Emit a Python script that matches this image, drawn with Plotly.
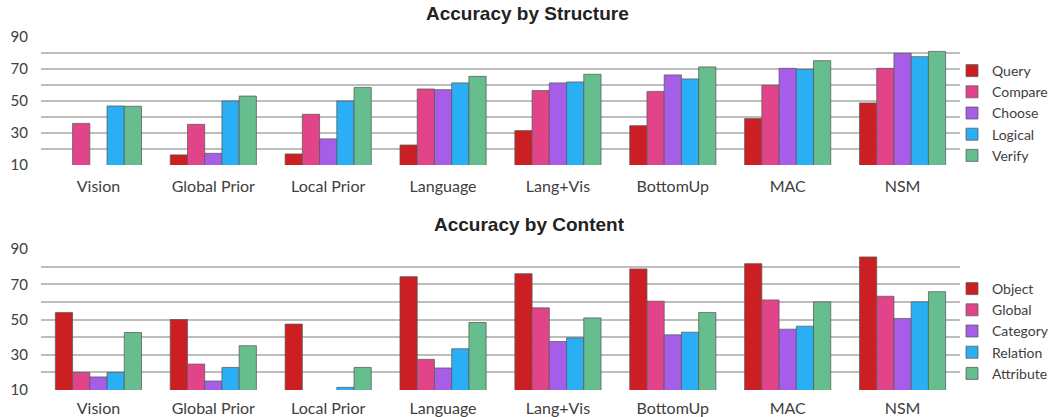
import plotly.graph_objects as go
from plotly.subplots import make_subplots

models = ["Vision", "Global Prior", "Local Prior", "Language", "Lang+Vis", "BottomUp", "MAC", "NSM"]

# Accuracy by Structure
query = [None, 16.3, 16.9, 22.5, 31.5, 34.6, 39.0, 48.8]
compare = [36.0, 35.4, 41.7, 57.5, 56.5, 56.0, 59.8, 70.4]
choose = [None, 17.3, 26.3, 57.1, 61.3, 66.3, 70.4, 79.8]
logical = [46.9, 50.0, 50.0, 61.3, 61.9, 63.8, 69.8, 77.7]
verify = [46.7, 53.1, 58.5, 65.4, 66.7, 71.3, 75.2, 81.0]

# Accuracy by Content
obj = [54.0, 50.0, 47.4, 74.3, 76.0, 78.7, 81.7, 85.5]
glob = [20.0, 24.7, None, 27.4, 56.6, 60.4, 61.1, 63.2]
category = [17.4, 15.1, None, 22.5, 37.5, 41.3, 44.5, 50.6]
relation = [20.0, 22.8, 11.5, 33.4, 39.6, 42.8, 46.2, 60.0]
attribute = [42.6, 35.1, 22.8, 48.3, 50.9, 54.0, 60.0, 65.8]

tick_vals = [10, 20, 30, 40, 50, 60, 70, 80, 90]
tick_text = ["10", "", "30", "", "50", "", "70", "", "90"]

colors = ["#cc1f24", "#e2448a", "#a65ee8", "#2aaef4", "#66bd8d"]
line_col = "rgba(90,90,90,0.75)"

fig = make_subplots(rows=2, cols=1)

struct = [("Query", query), ("Compare", compare), ("Choose", choose), ("Logical", logical), ("Verify", verify)]
content = [("Object", obj), ("Global", glob), ("Category", category), ("Relation", relation), ("Attribute", attribute)]

for (name, vals), c in zip(struct, colors):
    fig.add_trace(go.Bar(x=models, y=vals, name=name, marker=dict(color=c, line=dict(color=line_col, width=1)),
                         legend="legend"), row=1, col=1)
for (name, vals), c in zip(content, colors):
    fig.add_trace(go.Bar(x=models, y=vals, name=name, marker=dict(color=c, line=dict(color=line_col, width=1)),
                         legend="legend2"), row=2, col=1)

W, H = 1051, 417
xdom = [41 / W, 960 / W]
xfont = dict(family="Lato, Open Sans, sans-serif", size=16, color="#404040")
title_font = dict(family="Liberation Sans, Arial, sans-serif", size=19, color="#222222")
fig.update_layout(
    width=W, height=H, autosize=False,
    margin=dict(l=0, r=0, t=0, b=0, autoexpand=False),
    paper_bgcolor="white", plot_bgcolor="white",
    barmode="group", bargap=0.25, bargroupgap=0,
    font=dict(family="Lato, Open Sans, sans-serif", size=15, color="#404040"),
    xaxis=dict(domain=xdom, anchor="y", showgrid=False, showline=False, ticks="", tickfont=xfont,
               ticklabelstandoff=10),
    xaxis2=dict(domain=xdom, anchor="y2", showgrid=False, showline=False, ticks="", tickfont=xfont,
                ticklabelstandoff=7),
    yaxis=dict(domain=[1 - 165 / H, 1 - 37 / H], range=[10, 90], tickvals=tick_vals, ticktext=tick_text,
               gridcolor="#bdbdbd", gridwidth=1.5, zeroline=False, ticks="", ticklabelstandoff=12),
    yaxis2=dict(domain=[1 - 390 / H, 1 - 249 / H], range=[10, 90], tickvals=tick_vals, ticktext=tick_text,
                gridcolor="#bdbdbd", gridwidth=1.5, zeroline=False, ticks="", ticklabelstandoff=12),
    legend=dict(x=952 / W, y=1 - 55 / H, xanchor="left", yanchor="top", font=dict(size=14, color="#404040"),
                itemwidth=30, tracegroupgap=0, bgcolor="rgba(0,0,0,0)"),
    legend2=dict(x=952 / W, y=1 - 273 / H, xanchor="left", yanchor="top", font=dict(size=14, color="#404040"),
                 itemwidth=30, tracegroupgap=0, bgcolor="rgba(0,0,0,0)"),
    annotations=[
        dict(text="<b>Accuracy by Structure</b>", x=527 / W, y=1 - 13 / H, xref="paper", yref="paper",
             xanchor="center", yanchor="middle", showarrow=False, font=title_font),
        dict(text="<b>Accuracy by Content</b>", x=529 / W, y=1 - 224 / H, xref="paper", yref="paper",
             xanchor="center", yanchor="middle", showarrow=False, font=title_font),
    ],
)

fig.write_html("out.html", config={"displayModeBar": False},
               post_script="document.body.style.margin='0px';document.body.style.padding='0px';")
